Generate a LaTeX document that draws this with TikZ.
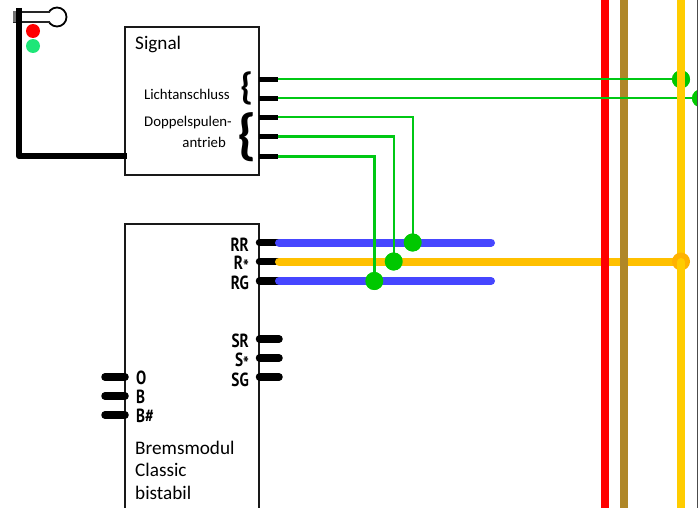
\documentclass[tikz,border=0pt]{standalone}
\usepackage{fontspec}
\setmainfont{Carlito}
\newfontfamily\pinfont[FakeStretch=0.8]{PT Sans}
\tikzset{
  x=1pt,y=-1pt,
  modbox/.style={draw=black!90,line width=2pt,anchor=north west,inner sep=0pt,outer sep=0pt},
  pinwire/.style={line width=7.5pt,line cap=round,black},
  blackstub/.style={line width=4.5pt,black},
  greenwire/.style={line width=2.4pt,draw={rgb,255:red,0;green,200;blue,20}},
  dot/.style={circle,fill={rgb,255:red,0;green,200;blue,0},minimum size=18pt,inner sep=0pt},
  busblue/.style={line width=8pt,line cap=round,draw={rgb,255:red,70;green,70;blue,255}},
  busyellow/.style={line width=8pt,line cap=round,draw={rgb,255:red,255;green,192;blue,0}},
  rail/.style={line width=8pt},
  lbl/.style={inner sep=0pt,font=\fontsize{14.8}{16}\selectfont},
  title/.style={inner sep=0pt,anchor=west,font=\fontsize{19.2}{24}\selectfont},
  pinlbl/.style={inner sep=0pt,font=\pinfont\fontsize{19}{21}\selectfont\bfseries},
}
\definecolor{railbrown}{RGB}{175,135,40}
\definecolor{railyellow}{RGB}{255,204,0}
\newcommand{\midstar}{\raisebox{-4pt}[0pt][0pt]{*}}
\begin{document}
\begin{tikzpicture}
\useasboundingbox (0,0) rectangle (698,508);
\clip (0,0) rectangle (698,508);
% module boxes
\node[modbox,minimum width=134pt,minimum height=148pt] (signal) at (125,27) {};
\node[modbox,minimum width=134pt,minimum height=320pt] (brems) at (125,224) {};
% pin ends
\foreach \n/\y in {la/79.3,lb/98.3,da/117.3,db/136.3,dc/156.3}{
  \coordinate (\n i) at (259,\y);
  \coordinate (\n o) at (278,\y);
}
\foreach \n/\y in {rr/242.5,rs/261.5,rg/281,sr/339,ss/358,sg/377}{
  \coordinate (\n i) at (259.5,\y);
  \coordinate (\n o) at (279,\y);
}
\foreach \n/\y in {o/377,b/396,bs/415}{
  \coordinate (\n i) at (125,\y);
  \coordinate (\n o) at (105,\y);
}
% dots and bus end points
\coordinate (busrr) at (491,242.5);
\coordinate (busrg) at (491,281);
\coordinate (railjoin) at (681,261.5);
\path (412.7,242.5) node[dot] (d3) {} (393.7,261.5) node[dot] (d4) {} (374.3,281) node[dot] (d5) {}
      (681,79.3) node[dot] (d1) {} (701,98.3) node[dot] (d2) {};
% buses and rails
\foreach \n in {rr,rs,rg,sr,ss,sg,o,b,bs}{\draw[pinwire] (\n i) -- (\n o);}
\draw[busyellow] (rso) -- (railjoin);
\draw[rail,red] (605,0) -- (605,508);
\draw[rail,railbrown] (624,0) -- (624,508);
\draw[busblue] (rro) -- (busrr);
\draw[busblue] (rgo) -- (busrg);
\foreach \n in {la,lb,da,db,dc}{\draw[blackstub] (\n i) -- (\n o);}
% green wires
\draw[greenwire] (lao) -- (d1.center);
\draw[greenwire] (lbo) -- (d2.center);
\draw[greenwire] (dao) -| (d3.center);
\draw[greenwire] (dbo) -| (d4.center);
\draw[greenwire] (dco) -| (d5.center);
\node[dot] at (d1) {};
\node[dot] at (d2) {};
\node[dot] at (d3) {};
\node[dot] at (d4) {};
\node[dot] at (d5) {};
% yellow rail
\draw[rail,railyellow] (681,0) -- (681,508);
\fill[fill={rgb,255:red,255;green,178;blue,0}] (railjoin) circle (9);
\draw[rail,railyellow,line cap=round] (681,262) -- (681,290);
% right picture edge
\draw[line width=1pt,black!70] (697.5,0) -- (697.5,508);
% signal
\coordinate (mastbase) at (19,156);
\coordinate (masttop) at (19,8);
\node[circle,draw=black,line width=1.8pt,fill=white,minimum size=19pt,inner sep=0pt] (lamp) at (57,17) {};
\fill[white,draw=black!85,line width=1.4pt] (14,12) rectangle (49,22);
\fill[white] (46,13) rectangle (51,21);
\fill[black!55] (13,11.5) rectangle (17,22.5);
\draw[line width=6pt,black,line join=round] (masttop) -- (mastbase) -- (127,156);
\node[circle,fill=red,minimum size=14pt,inner sep=0pt] (lr) at (33,31) {};
\node[circle,fill={rgb,255:red,30;green,230;blue,120},minimum size=14pt,inner sep=0pt] (lg) at (33,46) {};
% labels
\node[title] (t1) at (135,44.5) {Signal};
\node[lbl,anchor=east] (t2) at (230,94.5) {Lichtanschluss};
\node[lbl,anchor=east] (t3) at (232,123) {Doppelspulen-};
\node[lbl,anchor=east] (t4) at (226,142) {antrieb};
\node[inner sep=0pt,font=\fontsize{38}{40}\selectfont\bfseries] (b1) at (247,88) {\{};
\node[inner sep=0pt,font=\fontsize{56}{58}\selectfont\bfseries] (b2) at (247,137) {\{};
\foreach \t/\y in {RR/244.5,R\midstar/263,RG/282.5,SR/340.5,S\midstar/360,SG/379.5}{
  \node[pinlbl,anchor=east] at (249,\y) {\t};
}
\foreach \t/\y in {O/377.5,B/396.5,B\#/415.5}{
  \node[pinlbl,anchor=west] at (136,\y) {\t};
}
\node[title] at (135,447.5) {Bremsmodul};
\node[title] at (135,470) {Classic};
\node[title] at (135,492.5) {bistabil};
\end{tikzpicture}
\end{document}
